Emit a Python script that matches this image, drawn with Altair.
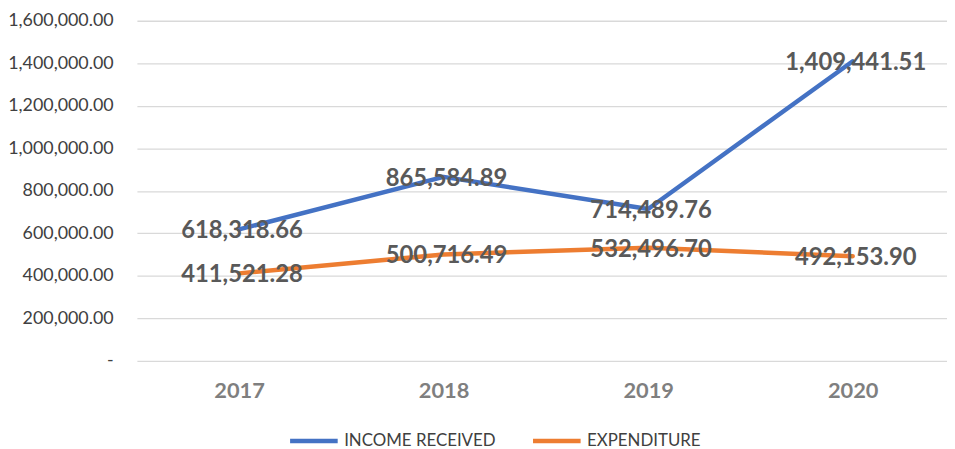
import altair as alt
import pandas as pd

years = ["2017", "2018", "2019", "2020"]
income = [618318.66, 865584.89, 714489.76, 1409441.51]
expenditure = [411521.28, 500716.49, 532496.70, 492153.90]
series_names = ["INCOME RECEIVED", "EXPENDITURE"]
series_colors = ["#4472C4", "#ED7D31"]

rows = []
for y, v in zip(years, income):
    rows.append({"year": y, "series": series_names[0], "value": v})
for y, v in zip(years, expenditure):
    rows.append({"year": y, "series": series_names[1], "value": v})
df = pd.DataFrame(rows)

FONT = "Lato"

x_enc = alt.X(
    "year:N",
    sort=years,
    scale=alt.Scale(type="point", padding=0.48, align=0.52),
    axis=alt.Axis(
        title=None, labelAngle=0, labelFontSize=22, labelFontWeight="bold",
        labelColor="#7F7F7F", labelFont=FONT, domain=False, ticks=False,
        grid=False, labelPadding=20,
    ),
)
y_enc = alt.Y(
    "value:Q",
    scale=alt.Scale(domain=[0, 1600000], nice=False),
    axis=alt.Axis(
        title=None, values=[0, 200000, 400000, 600000, 800000, 1000000, 1200000, 1400000, 1600000],
        labelExpr="datum.value == 0 ? '-\u00a0\u00a0\u00a0' : format(datum.value, ',.2f')",
        labelFontSize=18, labelColor="#404040", labelFont=FONT,
        domain=False, ticks=False, labelPadding=24,
        gridColor="#D9D9D9", gridWidth=1.3,
    ),
)
color_enc = alt.Color(
    "series:N",
    scale=alt.Scale(domain=series_names, range=series_colors),
    legend=alt.Legend(
        title=None, orient="none", direction="horizontal",
        legendX=152, legendY=397,
        symbolType="stroke", symbolSize=2304, symbolStrokeWidth=4.5,
        labelFontSize=17, labelColor="#404040", labelFont=FONT,
        labelOffset=4, columnPadding=28, padding=0, labelLimit=300,
    ),
)

lines = alt.Chart(df).mark_line(strokeWidth=4.5, strokeCap="round", strokeJoin="round").encode(
    x=x_enc, y=y_enc, color=color_enc
)
labels = alt.Chart(df).mark_text(
    font=FONT, fontSize=24, fontWeight="bold", color="#595959", dx=3, dy=2,
    align="center", baseline="middle",
).encode(
    x=alt.X("year:N", sort=years),
    y="value:Q",
    text=alt.Text("value:Q", format=",.2f"),
)

chart = alt.layer(lines, labels).properties(
    width=817, height=343,
    autosize=alt.AutoSizeParams(type="none"),
    padding={"left": 130, "top": 11, "right": 0, "bottom": 85},
).configure_view(stroke=None)

chart.save("out.html", embed_options={"renderer": "svg", "actions": False})
